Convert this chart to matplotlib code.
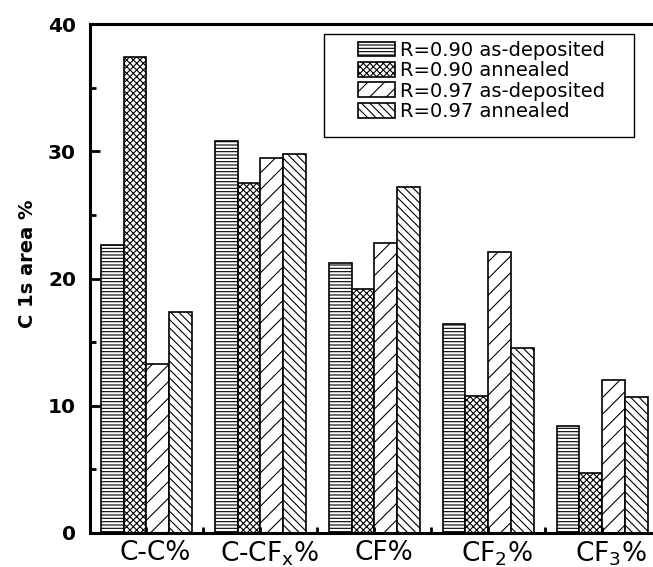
import numpy as np
import matplotlib
matplotlib.use("Agg")
import matplotlib.pyplot as plt
from matplotlib.patches import Rectangle

categories = ["C-C%", r"C-CF$_{\mathregular{x}}$%", "CF%",
              r"CF$_{\mathregular{2}}$%", r"CF$_{\mathregular{3}}$%"]
series_names = ["R=0.90 as-deposited", "R=0.90 annealed",
                "R=0.97 as-deposited", "R=0.97 annealed"]
r090_dep = [22.6, 30.8, 21.2, 16.4, 8.4]
r090_ann = [37.4, 27.5, 19.2, 10.8, 4.7]
r097_dep = [13.3, 29.5, 22.8, 22.1, 12.0]
r097_ann = [17.4, 29.8, 27.2, 14.5, 10.7]

series = [r090_dep, r090_ann, r097_dep, r097_ann]
hatches = ["-----", "xxxxx", "//", "\\\\\\\\"]

plt.rcParams["font.family"] = ["DejaVu Sans"]
plt.rcParams["mathtext.fontset"] = "dejavusans"
plt.rcParams["hatch.linewidth"] = 0.8

fig = plt.figure(figsize=(6.53, 5.67), dpi=100)
ax = fig.add_axes([90 / 653, 34 / 567, 563 / 653, 509 / 567])

x = np.arange(len(categories))
width = 0.2
for i, (vals, name, h) in enumerate(zip(series, series_names, hatches)):
    ax.bar(x + (i - 1.5) * width, vals, width, label=name, facecolor="white",
           edgecolor="black", linewidth=1.2, hatch=h)

ax.set_xlim(-0.496, 4.447)
ax.set_ylim(0, 40)
ax.set_yticks([0, 10, 20, 30, 40])
ax.set_yticks([5, 15, 25, 35], minor=True)
# labels sit a little right of the group centres, as in the original
ax.set_xticks(x + 0.08, categories, fontsize=19)
ax.set_xticks(np.sort(np.concatenate([x, x[:-1] + 0.5])), minor=True)
for lab in ax.get_yticklabels():
    lab.set_fontweight("bold")
    lab.set_fontsize(14.5)

ax.tick_params(axis="y", which="major", direction="in", length=7, width=2, pad=10)
ax.tick_params(axis="y", which="minor", direction="in", length=4, width=2)
ax.tick_params(axis="x", which="major", direction="in", length=0, pad=5)
ax.tick_params(axis="x", which="minor", direction="in", length=4, width=2)

for side in ["left", "bottom", "top"]:
    ax.spines[side].set_linewidth(2.2)
ax.spines["right"].set_visible(False)

ax.set_ylabel("C 1s area %", fontsize=14, fontweight="bold")
ax.yaxis.set_label_coords(-0.094, 0.528)

leg = ax.legend(loc="upper left", bbox_to_anchor=(0.476, 0.967), fontsize=14,
                frameon=False, handlelength=1.9, handleheight=0.8,
                labelspacing=0.07, handletextpad=0.25, borderpad=0,
                borderaxespad=0)
ax.add_patch(Rectangle((0.4156, 0.778), 0.5507, 0.202, transform=ax.transAxes,
                       facecolor="none", edgecolor="black", linewidth=1.0,
                       zorder=4))

fig.savefig("out.png", dpi=100)
